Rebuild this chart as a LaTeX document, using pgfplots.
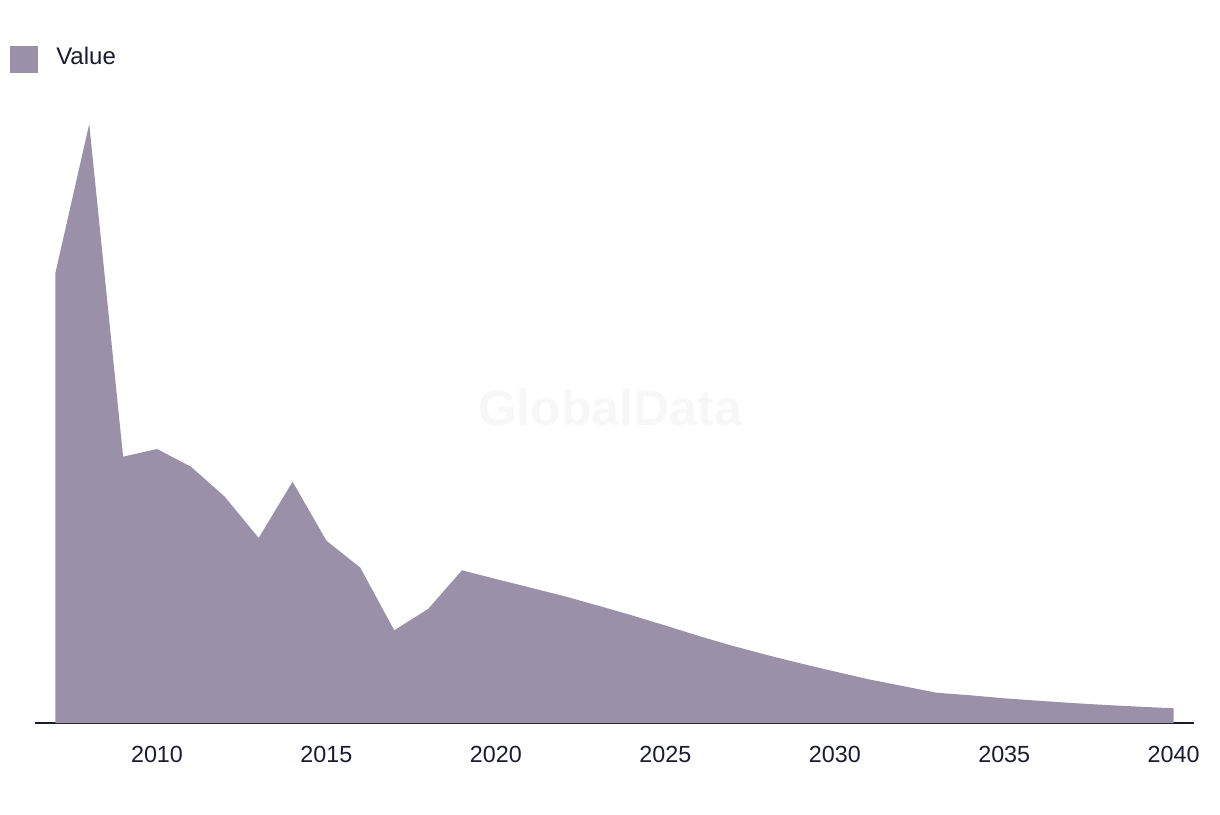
\documentclass[border=0pt]{standalone}
\usepackage{fontspec}
\setmainfont{Liberation Sans}
\usepackage{pgfplots}
\pgfplotsset{compat=1.18}
\definecolor{areacol}{HTML}{9A91A9}
\definecolor{inkcol}{HTML}{1B1A33}
\definecolor{markcol}{HTML}{F7F7F7}
\begin{document}
\begin{tikzpicture}
% page frame (1 px = 0.75pt)
\path (-26.25pt,-68.25pt) rectangle (888.75pt,542.25pt);
\node[text=markcol, font=\fontsize{37.5}{40}\selectfont\bfseries] at (431.25pt,236.25pt) {GlobalData};
\begin{axis}[
    scale only axis,
    width=869.25pt, height=467.25pt,
    xmin=2006.4, xmax=2040.6,
    ymin=0, ymax=623,
    axis x line=bottom,
    axis y line=none,
    axis line style={inkcol, line width=1.5pt, -},
    xtick={2010,2015,...,2040},
    major tick length=0pt,
    xticklabel style={text=inkcol, font=\fontsize{17.5}{19}\selectfont, anchor=north, inner sep=0pt, yshift=-17pt},
    /pgf/number format/1000 sep={},
    /pgf/number format/assume math mode=true,
]
\addplot[fill=areacol, draw=none] coordinates {
    (2007,449.7) (2008,599) (2009,266.3) (2010,274) (2011,256.3)
    (2012,226.3) (2013,185) (2014,241.3) (2015,182.3) (2016,155.3)
    (2017,92.7) (2018,114) (2019,152.7) (2020,144) (2021,135.5)
    (2022,127) (2023,117.5) (2024,107.8) (2025,97.5) (2026,86.9)
    (2027,77) (2028,68) (2029,59.5) (2030,51.5) (2031,43.7)
    (2032,37) (2033,30.3) (2034,27.7) (2035,24.7) (2036,22.3)
    (2037,20) (2038,18) (2039,16.3) (2040,14.7)
} \closedcycle;
\end{axis}
% legend
\fill[areacol] (-18.75pt,487.5pt) rectangle (2.25pt,507.75pt);
\node[anchor=base west, inner sep=0pt, text=inkcol, font=\fontsize{18}{20}\selectfont] at (15.75pt,493.6pt) {Value};
\end{tikzpicture}
\end{document}
